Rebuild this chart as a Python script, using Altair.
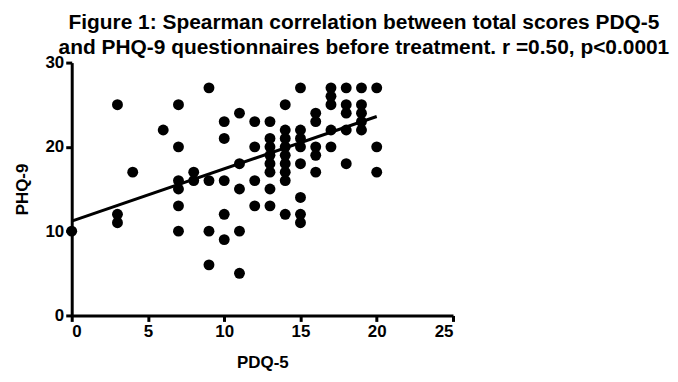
import altair as alt
import pandas as pd

pdq5 = [0,
        3, 3, 3,
        4,
        6,
        7, 7, 7, 7, 7, 7,
        8, 8,
        9, 9, 9, 9,
        10, 10, 10, 10, 10,
        11, 11, 11, 11, 11,
        12, 12, 12, 12,
        13, 13, 13, 13, 13, 13, 13, 13,
        14, 14, 14, 14, 14, 14, 14, 14, 14,
        15, 15, 15, 15, 15, 15, 15, 15,
        16, 16, 16, 16, 16,
        17, 17, 17, 17, 17,
        18, 18, 18, 18, 18,
        19, 19, 19, 19, 19,
        20, 20, 20]
phq9 = [10,
        25, 12, 11,
        17,
        22,
        25, 20, 16, 15, 13, 10,
        17, 16,
        27, 16, 10, 6,
        23, 21, 16, 12, 9,
        24, 18, 15, 10, 5,
        23, 20, 16, 13,
        23, 21, 20, 19, 18, 17, 15, 13,
        25, 22, 21, 20, 19, 18, 17, 16, 12,
        27, 22, 21, 20, 18, 14, 12, 11,
        24, 23, 20, 19, 17,
        27, 26, 25, 22, 20,
        27, 25, 24, 22, 18,
        27, 25, 24, 23, 22,
        27, 20, 17]

fit_x = [0, 20]
fit_y = [11.2, 23.6]

title_lines = ["Figure 1:  Spearman correlation between total scores PDQ-5",
               "and PHQ-9 questionnaires before treatment. r =0.50, p<0.0001"]

pts = pd.DataFrame({"PDQ-5": pdq5, "PHQ-9": phq9})
fit = pd.DataFrame({"PDQ-5": fit_x, "PHQ-9": fit_y})

FONT = "Liberation Sans"

xs = alt.Scale(domain=[0, 25], nice=False, zero=False)
ys = alt.Scale(domain=[0, 30], nice=False, zero=False)

xax = alt.Axis(values=[0, 5, 10, 15, 20, 25], title="PDQ-5", grid=False)
yax = alt.Axis(values=[0, 10, 20, 30], title="PHQ-9", grid=False)

points = alt.Chart(pts).mark_circle(size=120, color="black", opacity=1).encode(
    x=alt.X("PDQ-5:Q", scale=xs, axis=xax),
    y=alt.Y("PHQ-9:Q", scale=ys, axis=yax),
)

line = alt.Chart(fit).mark_line(color="black", strokeWidth=3).encode(
    x=alt.X("PDQ-5:Q", scale=xs),
    y=alt.Y("PHQ-9:Q", scale=ys),
)

chart = alt.layer(points, line).properties(
    width=383,
    height=254,
    title=alt.TitleParams(
        text=title_lines,
        font=FONT,
        fontSize=21,
        fontWeight="bold",
        color="black",
        anchor="middle",
        dx=102,
        offset=-4,
        lineHeight=25,
    ),
    padding={"left": 5, "top": 3, "right": 0, "bottom": 5},
).configure_view(stroke=None).configure_axis(
    domainColor="black",
    domainWidth=3,
    tickColor="black",
    tickWidth=3,
    tickSize=6,
    labelFont=FONT,
    labelFontSize=17,
    labelFontWeight="bold",
    labelColor="black",
    labelPadding=2,
    titleFont=FONT,
    titleFontSize=17,
    titleFontWeight="bold",
    titleColor="black",
).configure_axisY(titlePadding=14).configure_axisX(titlePadding=15)

chart.save("out.html", embed_options={"renderer": "svg", "actions": False})
